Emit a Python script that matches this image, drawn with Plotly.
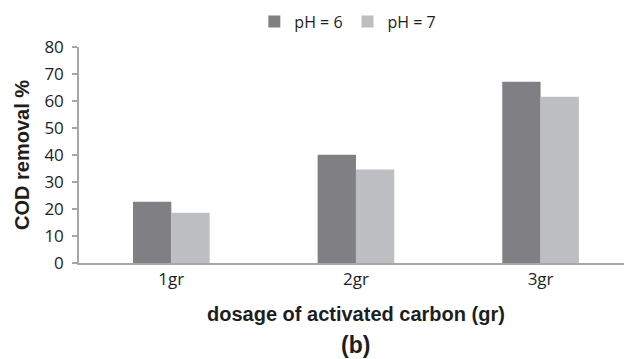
import plotly.graph_objects as go

categories = ["1gr", "2gr", "3gr"]
ph6 = [22.7, 40.1, 67.1]
ph7 = [18.6, 34.6, 61.6]
series_names = ["pH = 6", "pH = 7"]
y_ticks = [0, 10, 20, 30, 40, 50, 60, 70, 80]

W, H = 624, 359
L, R, T, B = 78.5, 0, 47.3, 359 - 263.3
plot_w = W - L - R
plot_h = H - T - B
cat_px = 184.8

fig = go.Figure()
fig.add_trace(go.Bar(x=categories, y=ph6, name=series_names[0], marker=dict(color="#808084", line=dict(width=0))))
fig.add_trace(go.Bar(x=categories, y=ph7, name=series_names[1], marker=dict(color="#bdbec2", line=dict(width=0))))

axis_col = "#a6a6a6"
txt_col = "#1e1e1e"
tick_font = dict(family="Open Sans", size=17, color=txt_col)

fig.update_layout(
    width=W, height=H,
    margin=dict(l=L, r=R, t=T, b=B, pad=0),
    paper_bgcolor="white", plot_bgcolor="white",
    barmode="group", bargap=0.585, bargroupgap=0,
    showlegend=True,
    legend=dict(orientation="h", x=(254 - L) / plot_w, xanchor="left",
                y=1 + (T - 22) / plot_h, yanchor="middle",
                font=dict(family="Open Sans", size=16, color=txt_col),
                itemwidth=30, traceorder="normal"),
    xaxis=dict(range=[-0.5, -0.5 + plot_w / cat_px], showline=True, linecolor=axis_col, linewidth=1.5,
               ticks="", tickfont=tick_font, showgrid=False, zeroline=False, fixedrange=True),
    yaxis=dict(range=[0, 80], tickvals=y_ticks, showline=True, linecolor=axis_col, linewidth=1.5,
               ticks="outside", ticklen=5, tickcolor=axis_col, tickwidth=1.5, ticklabelstandoff=5,
               tickfont=tick_font, showgrid=False, zeroline=False,
               title=dict(text="<b>COD removal %</b>", font=dict(family="Liberation Sans", size=20, color=txt_col), standoff=9)),
    annotations=[
        dict(text="<b>dosage of activated carbon (gr)</b>", xref="paper", yref="paper",
             x=(356 - L) / plot_w, y=-(314 - (T + plot_h)) / plot_h, xanchor="center", yanchor="middle",
             showarrow=False, font=dict(family="Liberation Sans", size=20, color=txt_col)),
        dict(text="<b>(b)</b>", xref="paper", yref="paper",
             x=(355 - L) / plot_w, y=-(345 - (T + plot_h)) / plot_h, xanchor="center", yanchor="middle",
             showarrow=False, font=dict(family="Liberation Sans", size=23, color=txt_col)),
    ],
)

fig.write_html("out.html")
